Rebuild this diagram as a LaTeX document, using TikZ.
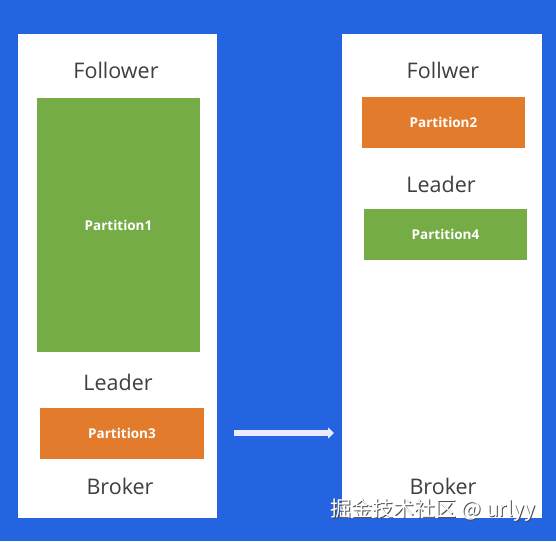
\documentclass[tikz,border=0pt]{standalone}
\usepackage{fontspec}
\usetikzlibrary{arrows.meta}
\setmainfont{Open Sans}
\newfontfamily\cjk{Noto Sans CJK SC}
\definecolor{bgblue}{HTML}{2564E0}
\definecolor{pgreen}{HTML}{76AC46}
\definecolor{porange}{HTML}{E27B2C}
\definecolor{txtgrey}{HTML}{3F3F3F}
\begin{document}
\begin{tikzpicture}[x=1pt,y=-1pt,
  broker/.style={fill=white,draw=none},
  label/.style={text=txtgrey,font=\fontsize{21.5}{24}\selectfont},
  part/.style={draw=none,text=white,font=\bfseries\fontsize{13.5}{16}\selectfont},
]
\fill[bgblue] (0,0) rectangle (556,541);
\useasboundingbox (0,0) rectangle (556,541);
% brokers
\node[broker,minimum width=199pt,minimum height=484pt,inner sep=0pt] (b1) at (117.5,276) {};
\node[broker,minimum width=200pt,minimum height=484pt,inner sep=0pt] (b2) at (442,276) {};
% left
\node[label] (f1) at (116,70) {Follower};
\node[part,fill=pgreen,minimum width=163pt,minimum height=254pt,inner sep=0pt] (p1) at (118.5,225) {Partition1};
\node[label] (l1) at (118,382) {Leader};
\node[part,fill=porange,minimum width=164pt,minimum height=51pt,inner sep=0pt] (p3) at (122,433.5) {Partition3};
\node[label] (k1) at (120,486) {Broker};
% right
\node[label] (f2) at (443,70) {Follwer};
\node[part,fill=porange,minimum width=163pt,minimum height=51pt,inner sep=0pt] (p2) at (443.5,122.5) {Partition2};
\node[label] (l2) at (441,184) {Leader};
\node[part,fill=pgreen,minimum width=163pt,minimum height=51pt,inner sep=0pt] (p4) at (445.5,234.5) {Partition4};
\node[label] (k2) at (443,486) {Broker};
% arrow
\coordinate (a1) at (234,433);
\coordinate (a2) at (334,433);
\draw[line width=6pt,draw=white!92!blue,-{Triangle[length=6pt,width=11pt]}] (a1) -- (a2);
% watermark
\node[text=black!70,font=\cjk\fontsize{21}{24}\selectfont] (wms) at (434,511) {掘金技术社区 @ urlyy};
\node[text=white,font=\cjk\fontsize{21}{24}\selectfont] (wm) at (433,510) {掘金技术社区 @ urlyy};
\end{tikzpicture}
\end{document}
